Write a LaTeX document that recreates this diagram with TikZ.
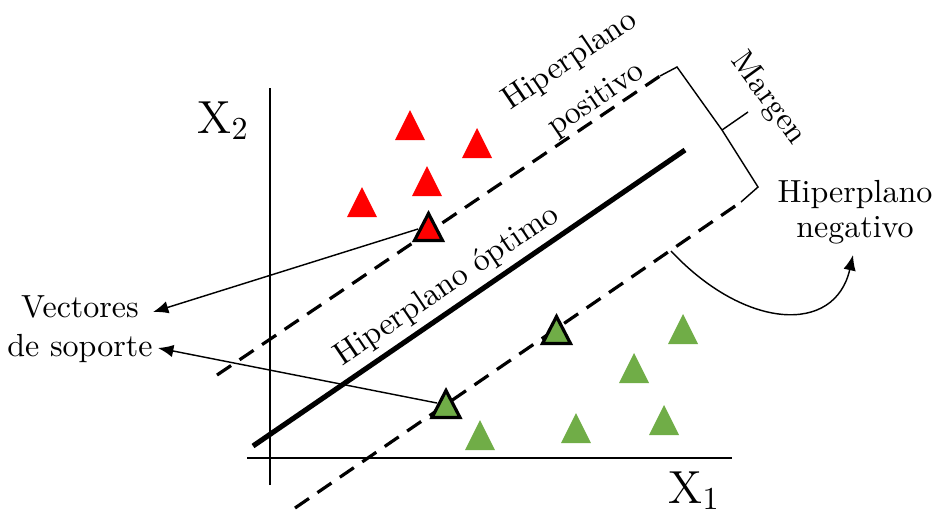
\documentclass[tikz,border=0pt]{standalone}
\usepackage{fontspec}
\usetikzlibrary{arrows.meta}
\definecolor{tgreen}{RGB}{112,173,71}
\definecolor{tred}{RGB}{255,0,0}
\tikzset{
  axisline/.style={line width=0.6pt},
  optline/.style={line width=1.6pt},
  marginline/.style={line width=1pt, dash pattern=on 5.3pt off 3.2pt},
  bracket/.style={line width=0.45pt, line join=miter},
  conn/.style={line width=0.45pt, -{Latex[length=4.8pt,width=3.9pt]}},
  lbl/.style={inner sep=0pt, align=center},
  redpt/.style={fill=tred},
  greenpt/.style={fill=tgreen},
  svpt/.style={draw=black, line width=1pt, line join=miter},
  tri/.pic={\path[pic actions] (-15,15) -- (0,-15) -- (15,15) -- cycle;},
  bigtri/.pic={\path[pic actions] (-14,13.5) -- (0,-13.5) -- (14,13.5) -- cycle;}
}
\begin{document}
\begin{tikzpicture}[x=0.3125pt,y=-0.3125pt,font=\fontsize{10}{12}\selectfont]
\useasboundingbox (0,0) rectangle (939,515);
% axes
\coordinate (yax-top) at (270,88);
\coordinate (yax-bot) at (270,485);
\coordinate (xax-l) at (247,458);
\coordinate (xax-r) at (732,458);
\draw[axisline] (yax-bot) -- (yax-top);
\draw[axisline] (xax-l) -- (xax-r);
\node[anchor=base west, inner sep=0pt, font=\fontsize{14.5}{16}\selectfont] (x2) at (197,133) {X$_2$};
\node[anchor=base west, inner sep=0pt, font=\fontsize{14.5}{16}\selectfont] (x1) at (668,503) {X$_1$};
% hyperplanes
\coordinate (opt-a) at (253,446);
\coordinate (opt-b) at (685,150);
\coordinate (pos-a) at (217,375);
\coordinate (pos-b) at (660,76);
\coordinate (neg-a) at (295,508);
\coordinate (neg-b) at (741,202);
\draw[optline] (opt-a) -- (opt-b);
\draw[marginline] (pos-a) -- (pos-b);
\draw[marginline] (neg-a) -- (neg-b);
% bracket
\coordinate (br-top) at (677,67);
\coordinate (br-mid) at (722,130);
\coordinate (br-tip) at (748,112);
\coordinate (br-bot) at (758,187);
\draw[bracket] (pos-b) -- (br-top) -- (br-mid) -- (br-bot) -- (neg-b);
\draw[bracket] (br-mid) -- (br-tip);
% labels
\node[lbl, rotate=34, font=\fontsize{10}{14.5}\selectfont] (lpos) at (583,80) {Hiperplano\\positivo};
\node[lbl, rotate=-54] (lmar) at (768,99) {Margen};
\node[lbl, rotate=34] (lopt) at (447,286) {Hiperplano óptimo};
\node[lbl, font=\fontsize{10}{11}\selectfont] (lneg) at (855,212) {Hiperplano\\negativo};
\node[lbl, font=\fontsize{10}{12.3}\selectfont] (lsv) at (80,329) {Vectores\\de soporte};
% points
\pic[redpt] at (410,125) {tri};
\pic[redpt] at (477,143) {tri};
\pic[redpt] at (427,181) {tri};
\pic[redpt] at (362,202) {tri};
\pic[redpt, svpt] at (428.5,227) {bigtri};
\pic[greenpt, svpt] at (556.5,330) {bigtri};
\pic[greenpt, svpt] at (446,404) {bigtri};
\pic[greenpt] at (683,329) {tri};
\pic[greenpt] at (634,368) {tri};
\pic[greenpt] at (576,428) {tri};
\pic[greenpt] at (664,420) {tri};
\pic[greenpt] at (480,435) {tri};
% connectors
\coordinate (sv-red) at (418,229);
\coordinate (sv-green) at (437,403);
\coordinate (lsv-tip1) at (153,312);
\coordinate (lsv-tip2) at (158,348);
\draw[conn] (sv-red) -- (lsv-tip1);
\draw[conn] (sv-green) -- (lsv-tip2);
\coordinate (neg-pt) at (671,251);
\coordinate (lneg-tip) at (853,255);
\draw[conn] (neg-pt) .. controls (745,330) and (835,335) .. (lneg-tip);
\end{tikzpicture}
\end{document}
